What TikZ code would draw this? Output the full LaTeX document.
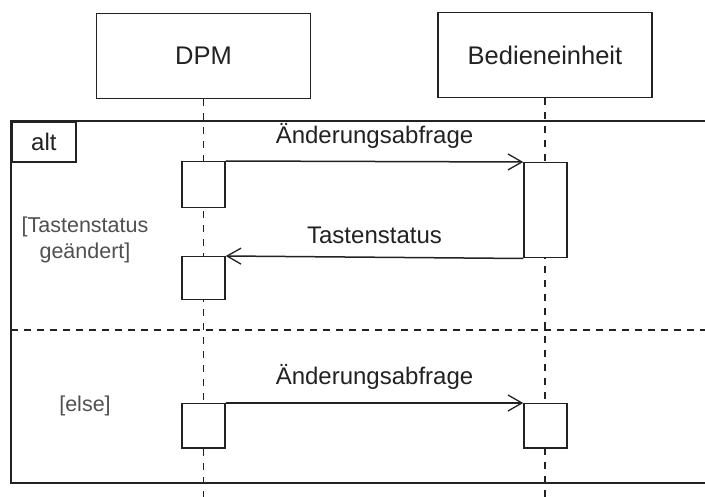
\documentclass[tikz,border=0pt]{standalone}
\usepackage{fontspec}
\setmainfont{Liberation Sans}
\usetikzlibrary{arrows.meta}
\definecolor{ink}{HTML}{222222}
\definecolor{guardgray}{HTML}{505050}
\tikzset{
  ink/.style={draw=ink, line width=1.5pt},
  head/.style={ink, fill=white, minimum width=214pt, minimum height=85pt,
    inner sep=0pt, font=\fontsize{25.5}{30}\selectfont, text=ink},
  act/.style={ink, fill=white, minimum width=43pt, inner sep=0pt, anchor=north},
  lifeline/.style={draw=ink, line width=1.4pt, dash pattern=on 7pt off 7pt},
  msg/.style={ink, -{Straight Barb[length=14pt,width=16pt,line width=1.3pt]}},
  msglabel/.style={font=\fontsize{24}{28}\selectfont, text=ink},
  guard/.style={font=\fontsize{21.5}{26}\selectfont, text=guardgray, align=center},
  fragment/.style={ink, line width=1.8pt},
  separator/.style={draw=ink, line width=1.5pt, dash pattern=on 7pt off 6pt}
}
\begin{document}
\begin{tikzpicture}[x=1pt, y=-1pt]
  \useasboundingbox (0,0) rectangle (705,497);
  \fill[white] (0,0) rectangle (705,497);

  % lifeline heads
  \node[head] (dpm) at (203.5,56) {DPM};
  \node[head] (bed) at (545,55) {Bedieneinheit};

  % combined fragment; its right side lies beyond the page edge
  \coordinate (fragTR) at (705,121);
  \coordinate (fragTL) at (11,121);
  \coordinate (fragBL) at (11,483);
  \coordinate (fragBR) at (705,483);
  \draw[fragment] (fragTR) -- (fragTL) -- (fragBL) -- (fragBR);
  \node[fragment, draw, anchor=north west, inner sep=0pt, minimum width=64pt,
        minimum height=40pt, font=\fontsize{24}{28}\selectfont, text=ink]
        (altlbl) at (fragTL) {alt};
  \coordinate (sepL) at (11,330);
  \coordinate (sepR) at (705,330);
  \draw[separator] (sepL) -- (sepR);

  % lifelines
  \coordinate (dpmEnd) at (dpm.south |- 0,497);
  \coordinate (bedEnd) at (bed.south |- 0,497);
  \draw[lifeline] (dpm.south) -- (dpmEnd);
  \draw[lifeline] (bed.south) -- (bedEnd);

  % guards
  \node[guard] (g1) at (85,240) {[Tastenstatus\\geändert]};
  \node[guard] (g2) at (85,406) {[else]};

  % activations, first operand
  \node[act, minimum height=46pt] (a1) at (203.5,161) {};
  \node[act, minimum height=95pt] (b1) at (545.5,162) {};
  \node[act, minimum height=43pt] (a2) at (203.5,256) {};

  % activations, second operand
  \node[act, minimum height=44pt] (a3) at (203.5,403) {};
  \node[act, minimum height=44pt] (b3) at (545.5,403) {};

  % messages
  \draw[msg] (a1.north east) -- node[msglabel, above=9pt] (m1) {Änderungsabfrage} (b1.north west);
  \draw[msg] (b1.south west) -- node[msglabel, above=9pt] (m2) {Tastenstatus} (a2.north east);
  \draw[msg] (a3.north east) -- node[msglabel, above=9pt] (m3) {Änderungsabfrage} (b3.north west);
\end{tikzpicture}
\end{document}
